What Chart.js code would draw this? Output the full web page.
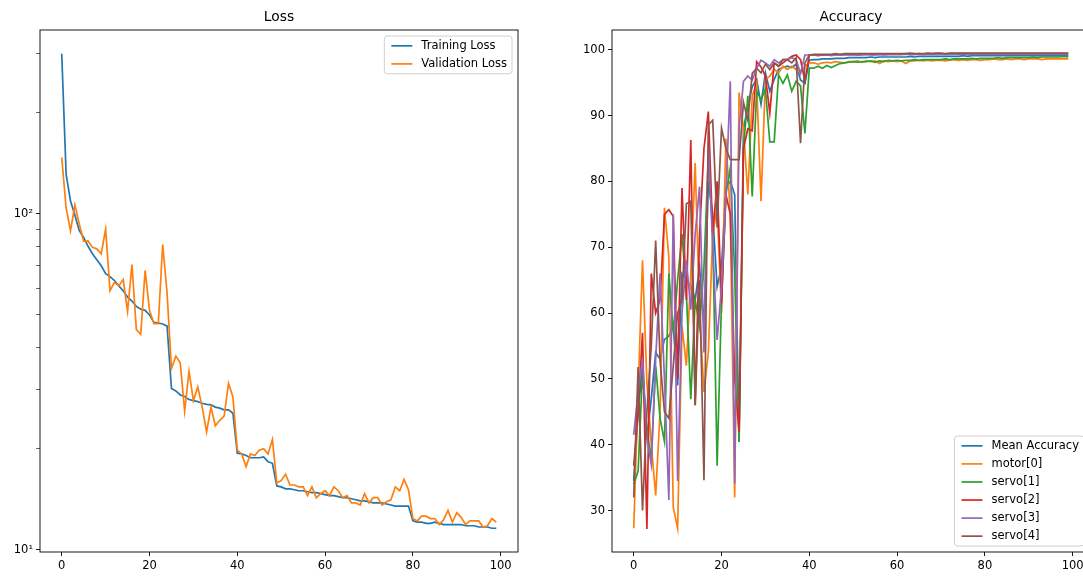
<!DOCTYPE html>
<html>
<head>
<meta charset="utf-8">
<script src="https://cdn.jsdelivr.net/npm/chart.js@4.4.1/dist/chart.umd.min.js"></script>
<style>
  html, body { margin: 0; padding: 0; background: #fff; overflow: hidden; width: 1083px; height: 576px; }
  canvas { position: absolute; top: 0; }
  #lossChart { left: 0; }
  #accChart { left: 530px; }
</style>
</head>
<body>
<canvas id="lossChart" width="530" height="576"></canvas>
<canvas id="accChart" width="575" height="576"></canvas>
<script>
const epochs = Array.from({ length: 100 }, (_, i) => i);

const trainLoss = [
  299, 131, 109, 99, 89, 85, 80, 76, 73, 70,
  66.3, 65, 63.3, 61, 59, 56.5, 55, 53, 52, 51.6,
  50, 47.5, 47.3, 47, 46.3, 30.2, 29.7, 28.9, 28.6, 28,
  27.8, 27.6, 27.3, 27.1, 27, 26.6, 26.4, 26.1, 26.1, 25.5,
  19.4, 19.3, 19.1, 18.8, 18.8, 18.8, 18.9, 18.3, 18.1, 15.5,
  15.4, 15.2, 15.2, 15.1, 15.0, 15.0, 14.9, 14.8, 14.8, 14.7,
  14.6, 14.5, 14.5, 14.4, 14.3, 14.3, 14.2, 14.1, 14.0, 14.0,
  13.9, 13.8, 13.8, 13.8, 13.7, 13.6, 13.5, 13.5, 13.5, 13.5,
  12.2, 12.1, 12.1, 12.0, 12.0, 12.1, 12.0, 11.9, 11.9, 11.9,
  11.9, 11.9, 11.8, 11.8, 11.8, 11.7, 11.7, 11.7, 11.6, 11.6
];
const valLoss = [
  147, 104, 89, 106, 93, 82.8, 83, 79.4, 78.6, 76,
  90, 59, 62.5, 61, 63.7, 51.2, 70.6, 45.2, 43.8, 67.8,
  51.6, 47.1, 47.1, 81, 58, 34.7, 37.7, 36, 25.9, 34,
  27.8, 30.5, 26.6, 22.4, 26.6, 23.4, 24.3, 25, 31.3, 28.5,
  19.8, 19.3, 17.7, 19.3, 19.1, 19.8, 20, 19.3, 21.3, 15.8,
  16.1, 16.8, 15.6, 15.6, 15.4, 15.4, 14.5, 15.4, 14.3, 14.7,
  15.0, 14.5, 15.4, 15.0, 14.3, 14.5, 13.8, 13.8, 13.6, 14.7,
  13.8, 14.3, 14.3, 13.6, 13.9, 14.1, 15.4, 15.0, 16.2, 15.1,
  12.4, 12.2, 12.6, 12.6, 12.4, 12.4, 11.9, 12.3, 13.1, 12.1,
  12.9, 12.5, 11.9, 12.2, 12.2, 12.2, 11.7, 11.8, 12.4, 12.1
];

const meanAcc = [
  34.5, 45, 52, 41, 47, 54, 53, 56, 56.5, 58,
  49, 66, 65, 64, 62, 67, 58, 80, 75, 64,
  67, 79, 80, 78, 40.4, 88, 91.4, 94.4, 95.5, 91.7,
  96.5, 93.7, 95.5, 97, 97.3, 97.5, 97.3, 97.8, 95.4, 94.9,
  98.4, 98.5, 98.5, 98.6, 98.6, 98.6, 98.7, 98.7, 98.7, 98.8,
  98.8, 98.8, 98.8, 98.8, 98.9, 98.8, 98.9, 98.9, 98.9, 98.9,
  98.9, 98.9, 98.9, 99.0, 98.9, 99.0, 99.0, 99.0, 99.0, 99.0,
  99.0, 99.0, 99.0, 99.0, 99.0, 99.1, 99.0, 99.1, 99.1, 99.1,
  99.1, 99.1, 99.1, 99.1, 99.1, 99.1, 99.1, 99.1, 99.1, 99.1,
  99.1, 99.1, 99.1, 99.1, 99.1, 99.1, 99.1, 99.1, 99.1, 99.1
];
const motor0 = [
  27.3, 48, 68, 49.5, 40, 32.3, 45, 76, 68.5, 30.5,
  27.3, 58, 52, 66, 82.8, 60, 48, 54, 72, 76,
  60, 86.5, 75, 32, 93.5, 88, 78, 93, 95, 77,
  95.5, 96, 97, 96.5, 97.5, 97, 97.5, 97, 96.5, 97.5,
  98, 98, 97.8, 98, 98.1, 98, 98.2, 98.1, 98, 98.2,
  98.2, 98.3, 98.1, 98.3, 98.2, 98.3, 97.9, 98.3, 98.2, 98.3,
  98.2, 98.3, 97.9, 98.3, 98.3, 98.4, 98.3, 98.4, 98.3, 98.4,
  98.4, 98.3, 98.4, 98.5, 98.4, 98.5, 98.4, 98.5, 98.5, 98.4,
  98.5, 98.5, 98.6, 98.5, 98.5, 98.6, 98.5, 98.6, 98.6, 98.5,
  98.6, 98.6, 98.6, 98.5, 98.6, 98.6, 98.6, 98.6, 98.6, 98.6
];
const servo1 = [
  34, 36, 51, 42, 38, 52, 44, 40.5, 66, 57,
  65, 72, 63, 46.9, 62, 58, 67, 83.8, 72, 36.8,
  62, 78, 82, 66, 40.4, 85, 93, 77.7, 93.7, 92.4,
  94, 86, 86, 96.2, 94.9, 96.2, 93.7, 95.2, 94.5, 87.3,
  97.2, 97.2, 97.5, 97.2, 97.6, 97.3, 97.6, 97.9, 98, 98.1,
  98.2, 98.1, 98.2, 98.2, 98.3, 98.1, 98.3, 98.2, 98.4, 98.3,
  98.4, 98.3, 98.4, 98.4, 98.5, 98.4, 98.5, 98.5, 98.5, 98.5,
  98.5, 98.6, 98.5, 98.6, 98.6, 98.6, 98.6, 98.7, 98.6, 98.7,
  98.7, 98.7, 98.7, 98.8, 98.7, 98.8, 98.8, 98.8, 98.8, 98.8,
  98.8, 98.9, 98.8, 98.9, 98.9, 98.9, 98.9, 98.9, 99.0, 98.9
];
const servo2 = [
  36.8, 45, 57, 27.2, 66, 60, 62, 75, 75.7, 74.7,
  50, 79, 62, 86.3, 46, 72, 85, 90.6, 72, 80,
  61.5, 78, 75, 50, 42, 85, 88, 87.7, 98.2, 97.4,
  96, 90.4, 98, 97.5, 98, 98.5, 99, 99.2, 98.5, 95.2,
  99.2, 99.2, 99.1, 99.2, 99.2, 99.2, 99.3, 99.2, 99.3, 99.3,
  99.3, 99.2, 99.3, 99.3, 99.3, 99.3, 99.3, 99.3, 99.3, 99.3,
  99.3, 99.3, 99.4, 99.3, 99.3, 99.4, 99.3, 99.4, 99.4, 99.4,
  99.4, 99.3, 99.4, 99.4, 99.4, 99.4, 99.4, 99.4, 99.4, 99.4,
  99.4, 99.4, 99.4, 99.4, 99.4, 99.4, 99.4, 99.4, 99.4, 99.4,
  99.4, 99.4, 99.4, 99.4, 99.4, 99.4, 99.4, 99.4, 99.4, 99.4
];
const servo3 = [
  41.5, 48, 53, 41, 37, 53, 66, 50, 31.6, 75,
  34.5, 60, 68, 60.5, 72, 79.2, 54, 85.8, 70, 55.9,
  64, 78, 95.2, 34.1, 88, 95.2, 96, 95.4, 97.2, 98.4,
  98, 97.5, 98.5, 98, 98.5, 98.5, 98.8, 98.5, 96.4, 99.2,
  99.2, 99.2, 99.2, 99.2, 99.2, 99.1, 99.2, 99.2, 99.2, 99.2,
  99.2, 99.2, 99.2, 99.3, 99.2, 99.2, 99.3, 99.2, 99.3, 99.3,
  99.3, 99.3, 99.3, 99.3, 99.3, 99.3, 99.3, 99.3, 99.3, 99.3,
  99.3, 99.3, 99.3, 99.3, 99.3, 99.3, 99.3, 99.3, 99.3, 99.3,
  99.3, 99.3, 99.3, 99.3, 99.3, 99.3, 99.3, 99.3, 99.3, 99.3,
  99.3, 99.3, 99.3, 99.3, 99.3, 99.3, 99.3, 99.3, 99.3, 99.3
];
const servo4 = [
  32, 51.8, 30, 45, 55, 71, 52.8, 45, 44, 52,
  60, 62, 76.6, 77, 46, 65, 34.6, 88.6, 89.3, 73,
  88.1, 85, 83.3, 83.3, 83.3, 92, 89.3, 96.4, 97.2, 96.5,
  97.8, 97, 98, 97.5, 98.5, 98.5, 98, 98.8, 85.8, 98,
  99.2, 99.3, 99.3, 99.3, 99.3, 99.3, 99.4, 99.3, 99.4, 99.4,
  99.4, 99.4, 99.4, 99.4, 99.4, 99.4, 99.4, 99.4, 99.4, 99.4,
  99.4, 99.4, 99.4, 99.5, 99.4, 99.4, 99.4, 99.5, 99.4, 99.5,
  99.5, 99.4, 99.5, 99.5, 99.5, 99.5, 99.5, 99.5, 99.5, 99.5,
  99.5, 99.5, 99.5, 99.5, 99.5, 99.5, 99.5, 99.5, 99.5, 99.5,
  99.5, 99.5, 99.5, 99.5, 99.5, 99.5, 99.5, 99.5, 99.5, 99.5
];

const epochTicks = [0, 20, 40, 60, 80, 100];
const lossTicks = [10, 20, 30, 40, 50, 60, 70, 80, 90, 100, 200, 300];
const accTicks = [30, 40, 50, 60, 70, 80, 90, 100];

const colors = ['#1f77b4', '#ff7f0e', '#2ca02c', '#d62728', '#9467bd', '#8c564b'];
const FONT = 'DejaVu Sans';

Chart.defaults.font.family = FONT;
Chart.defaults.font.size = 11.5;
Chart.defaults.color = '#000';

const toPoints = vals => epochs.map((e, i) => ({ x: e, y: vals[i] }));

const makeSets = (labels, series) => labels.map((label, i) => ({
  label,
  data: toPoints(series[i]),
  borderColor: colors[i],
  backgroundColor: colors[i],
  order: labels.length - i
}));

// axes frame, centred title and matplotlib style legend
const frame = {
  id: 'frame',
  afterDraw(chart, args, opts) {
    const { ctx, chartArea: a } = chart;
    ctx.save();
    ctx.strokeStyle = '#000';
    ctx.lineWidth = 0.9;
    ctx.strokeRect(a.left, a.top, a.right - a.left, a.bottom - a.top);

    ctx.fillStyle = '#000';
    ctx.font = '13.8px "' + FONT + '"';
    ctx.textAlign = 'center';
    ctx.textBaseline = 'middle';
    ctx.fillText(opts.title, (a.left + a.right) / 2, 17);

    const sets = chart.data.datasets;
    ctx.font = '11.5px "' + FONT + '"';
    const textW = Math.max(...sets.map(d => ctx.measureText(d.label).width));
    const w = 37 + textW + 5;
    const rowH = 18.06;
    const h = 19.7 + (sets.length - 1) * rowH;
    const x = a.right - 6 - w;
    const y = opts.legendAt === 'top' ? a.top + 6 : a.bottom - 6 - h;
    ctx.beginPath();
    ctx.roundRect(x, y, w, h, 3);
    ctx.fillStyle = 'rgba(255,255,255,0.8)';
    ctx.fill();
    ctx.strokeStyle = '#d0d0d0';
    ctx.lineWidth = 1;
    ctx.stroke();
    sets.forEach((d, i) => {
      const ry = y + 9.85 + i * rowH;
      ctx.beginPath();
      ctx.moveTo(x + 7, ry);
      ctx.lineTo(x + 28, ry);
      ctx.strokeStyle = d.borderColor;
      ctx.lineWidth = 1.7;
      ctx.stroke();
      ctx.fillStyle = '#000';
      ctx.textAlign = 'left';
      ctx.fillText(d.label, x + 37, ry);
    });
    ctx.restore();
  }
};

const tickGrid = {
  drawOnChartArea: false,
  tickLength: 4,
  tickColor: '#000',
  tickWidth: 0.9
};

new Chart(document.getElementById('lossChart'), {
  type: 'line',
  data: {
    datasets: makeSets(['Training Loss', 'Validation Loss'], [trainLoss, valLoss])
  },
  options: {
    responsive: false,
    animation: false,
    layout: { padding: { top: 30, right: 12, left: 0, bottom: 0 } },
    elements: { point: { radius: 0 }, line: { borderWidth: 1.7, tension: 0 } },
    plugins: {
      legend: { display: false },
      tooltip: { enabled: false },
      frame: { title: 'Loss', legendAt: 'top' }
    },
    scales: {
      x: {
        type: 'linear', min: -4.95, max: 103.95,
        afterBuildTicks: s => { s.ticks = epochTicks.map(v => ({ value: v })); },
        afterFit: s => { s.height = 24; },
        grid: tickGrid,
        border: { display: false },
        ticks: { padding: 3, autoSkip: false, maxRotation: 0 }
      },
      y: {
        type: 'logarithmic', min: 9.86, max: 351.8,
        afterBuildTicks: s => { s.ticks = lossTicks.map(v => ({ value: v })); },
        afterFit: s => { s.width = 40; },
        grid: {
          drawOnChartArea: false,
          tickLength: 4,
          tickColor: '#000',
          tickWidth: c => (c.tick && (c.tick.value === 10 || c.tick.value === 100)) ? 0.9 : 0.6
        },
        border: { display: false },
        ticks: {
          padding: 3,
          autoSkip: false,
          callback: v => v === 10 ? '10\u00b9' : v === 100 ? '10\u00b2' : ''
        }
      }
    }
  },
  plugins: [frame]
});

new Chart(document.getElementById('accChart'), {
  type: 'line',
  data: {
    datasets: makeSets(
      ['Mean Accuracy', 'motor[0]', 'servo[1]', 'servo[2]', 'servo[3]', 'servo[4]'],
      [meanAcc, motor0, servo1, servo2, servo3, servo4]
    )
  },
  options: {
    responsive: false,
    animation: false,
    layout: { padding: { top: 30, right: 15, left: 0, bottom: 0 } },
    elements: { point: { radius: 0 }, line: { borderWidth: 1.7, tension: 0 } },
    plugins: {
      legend: { display: false },
      tooltip: { enabled: false },
      frame: { title: 'Accuracy', legendAt: 'bottom' }
    },
    scales: {
      x: {
        type: 'linear', min: -4.95, max: 103.95,
        afterBuildTicks: s => { s.ticks = epochTicks.map(v => ({ value: v })); },
        afterFit: s => { s.height = 24; },
        grid: tickGrid,
        border: { display: false },
        ticks: { padding: 3, autoSkip: false, maxRotation: 0 }
      },
      y: {
        type: 'linear', min: 23.7, max: 103.0,
        afterBuildTicks: s => { s.ticks = accTicks.map(v => ({ value: v })); },
        afterFit: s => { s.width = 82; },
        grid: tickGrid,
        border: { display: false },
        ticks: { padding: 3, autoSkip: false }
      }
    }
  },
  plugins: [frame]
});
</script>
</body>
</html>
